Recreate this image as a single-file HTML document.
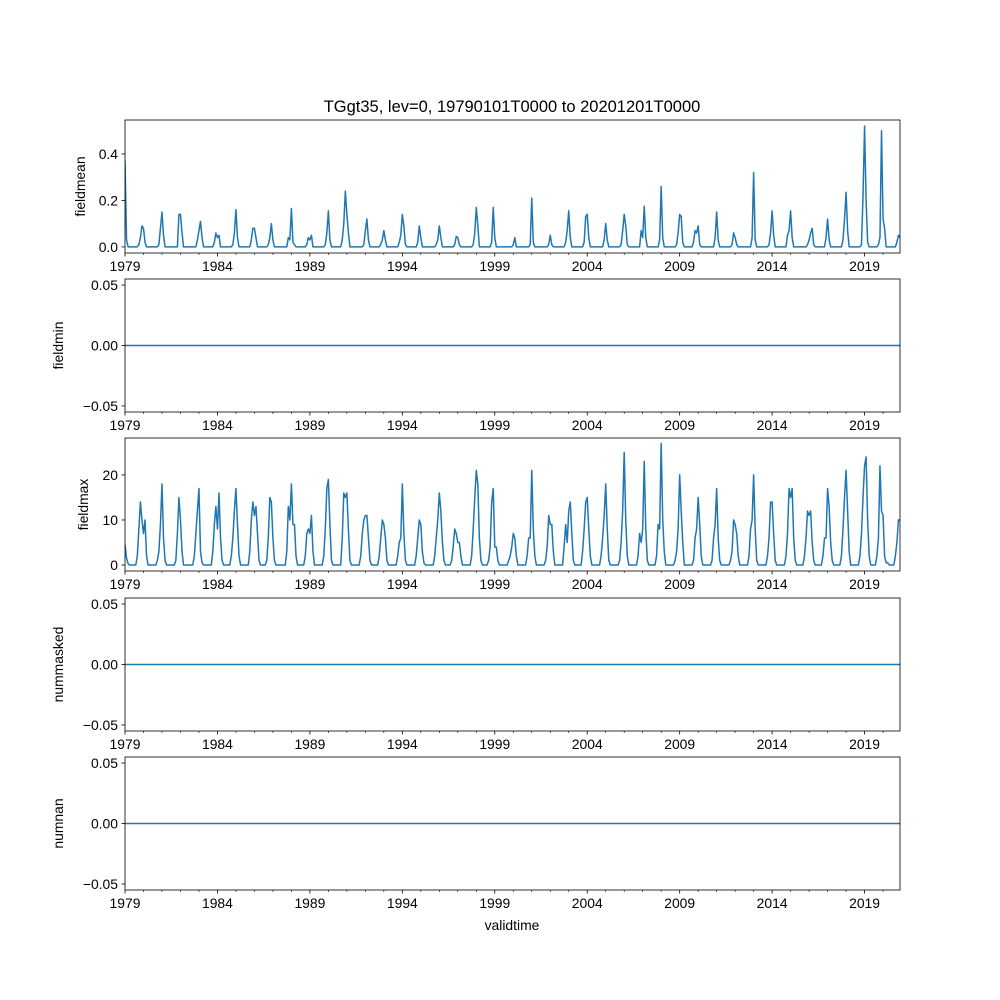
<!DOCTYPE html>
<html><head><meta charset="utf-8"><style>
html,body{margin:0;padding:0;background:#fff}
svg{display:block;font-family:"Liberation Sans","DejaVu Sans",sans-serif}
</style></head><body>
<svg id="fig" width="1000" height="1000" viewBox="0 0 1000 1000">
<text x="512" y="112" font-size="16.5" text-anchor="middle">TGgt35, lev=0, 19790101T0000 to 20201201T0000</text>
<text x="512" y="930" font-size="13.9" text-anchor="middle">validtime</text>
</svg>
<script>
const NMONTHS = 504;
const xTickYears = [1979,1984,1989,1994,1999,2004,2009,2014,2019];
const meanStarts = [-2,9,22,34,47,58,70,82,93,106,118,130,141,155,166,178,189,202,213,226,237,251,262,274,286,298,310,322,335,346,358,369,382,393,406,418,430,443,454,466,478,489,501];
const meanVals = [
[0,0,0.37,0.03,0],[0.01,0.04,0.09,0.08,0.02],[0.01,0.08,0.15,0.05,0],[0,0.14,0.14,0.06,0],
[0.03,0.07,0.11,0.04,0],[0.02,0.06,0.04,0.05,0],[0.01,0.06,0.16,0.04,0],[0.03,0.08,0.08,0.04,0],
[0.01,0.04,0.10,0.03,0],[0.04,0.03,0.165,0.02,0.01],[0.01,0.04,0.03,0.05,0],[0.01,0.06,0.155,0.03,0],
[0.03,0.10,0.24,0.14,0.06],[0.01,0.07,0.12,0.03,0],[0.01,0.03,0.07,0.03,0],[0.02,0.05,0.14,0.09,0.01],
[0,0.02,0.09,0.04,0],[0.01,0.03,0.09,0.04,0],[0,0.01,0.045,0.04,0.01],[0.01,0.06,0.17,0.09,0],
[0,0.02,0.17,0.04,0],[0,0.01,0.04,0,0],[0,0.01,0.21,0.02,0],[0,0.01,0.05,0.01,0],
[0.02,0.07,0.155,0.04,0],[0.02,0.13,0.14,0.04,0],[0,0.03,0.10,0.03,0],[0.01,0.07,0.14,0.09,0.01],
[0.07,0.04,0.175,0.04,0],[0,0.03,0.26,0.04,0],[0.01,0.06,0.14,0.13,0.02],[0.02,0.07,0.06,0.09,0.01],
[0,0.04,0.15,0.03,0],[0,0.01,0.06,0.04,0.01],[0,0.04,0.32,0.03,0],[0.01,0.06,0.155,0.05,0],
[0.05,0.07,0.155,0.04,0],[0.01,0.03,0.06,0.08,0.01],[0,0.04,0.12,0.03,0],[0.03,0.12,0.235,0.07,0],
[0.01,0.22,0.52,0.20,0.02],[0.01,0.04,0.50,0.12,0.08],[0.02,0.05,0.04]];
const maxStarts = [0,8,21,33,45,57,69,81,92,105,117,129,141,153,165,177,189,201,212,225,236,249,261,273,285,297,309,321,333,345,357,369,381,393,405,417,429,441,453,465,477,488,500];
const maxVals = [
[4.5,1.5,0.3],[2,8,14,10,7,10,2],[1,3,9,18,6,1],[1,7,15,10,3],[2,7,12,17,3,0.5],[3,9,13,8,16,6,1],
[2,6,12,17,9,2],[3,10,14,11,13,7,1],[1,6,15,14,6,1],[3,13,10,18,9,9,2],[2,7,8,7,11,3],[2,8,17,19,9,1],
[6,16,15,16,8,1],[2,7,10,11,11,6,1],[2,6,10,9,6,1],[2,5,6,18,7,1],[2,6,10,9,3,0.5],[2,6,10,16,12,5,1],
[1,4,8,7,5,5,2],[2,8,15,21,18,6,1],[1,4,14,17,4,4,1],[1,2,4,7,6,2],[2,6,6,21,8,2],[1,4,11,9,9,3],
[4,9,5,12,14,7,1],[3,8,14,15,8,2],[2,6,11,18,8,1],[1,5,12,25,10,2],[2,7,5,8,23,8,1],[2,9,8,27,10,3],
[1,3,8,20,12,5],[1,6,8,15,9,2],[1,6,9,17,6,1],[1,3,10,9,7,2],[2,8,10,20,8,1],[2,6,14,14,7,1],
[2,7,17,15,17,6,1],[2,6,12,11,12,5,1],[2,6,6,17,13,5,1],[2,8,15,21,12,3],[2,7,15,22,24,10,2],
[2,6,22,12,11,2,0.5,0.5],[2,5,10,10]];

function build(starts, vals){
  const a = new Array(NMONTHS).fill(0);
  starts.forEach((s,i)=>vals[i].forEach((v,j)=>{const m=s+j; if(m>=0&&m<NMONTHS) a[m]=v;}));
  return a;
}
const zeroSeries = new Array(NMONTHS).fill(0);
const panels = [
 {name:'fieldmean', top:120, bot:253, ymin:-0.0263, ymax:0.546, ticks:[0,0.2,0.4], labs:['0.0','0.2','0.4'], lx:85, data:build(meanStarts,meanVals)},
 {name:'fieldmin', top:279, bot:412, ymin:-0.055, ymax:0.055, ticks:[-0.05,0,0.05], labs:['−0.05','0.00','0.05'], lx:63, data:zeroSeries},
 {name:'fieldmax', top:438, bot:571, ymin:-1.33, ymax:28.2, ticks:[0,10,20], labs:['0','10','20'], lx:88, data:build(maxStarts,maxVals)},
 {name:'nummasked', top:598, bot:731, ymin:-0.055, ymax:0.055, ticks:[-0.05,0,0.05], labs:['−0.05','0.00','0.05'], lx:63, data:zeroSeries},
 {name:'numnan', top:757, bot:890, ymin:-0.055, ymax:0.055, ticks:[-0.05,0,0.05], labs:['−0.05','0.00','0.05'], lx:63, data:zeroSeries}
];
const X0=125, X1=900, T0=1979, T1=1979+503/12;
const xs = t => X0 + (t-T0)/(T1-T0)*(X1-X0);
const NS='http://www.w3.org/2000/svg';
const svg=document.getElementById('fig');
function mk(tag, attrs, parent){const e=document.createElementNS(NS,tag);for(const k in attrs)e.setAttribute(k,attrs[k]);(parent||svg).appendChild(e);return e;}
panels.forEach(p=>{
  const g=mk('g',{});
  
  
  const ys = v => p.bot - (v-p.ymin)/(p.ymax-p.ymin)*(p.bot-p.top);
  let d='';
  p.data.forEach((v,i)=>{d+=(i?'L':'M')+xs(T0+i/12).toFixed(2)+','+ys(v).toFixed(2);});
  const clip=mk('clipPath',{id:'c'+p.name},g); mk('rect',{x:X0,y:p.top,width:X1-X0,height:p.bot-p.top},clip);
  const line=mk('path',{d:d,fill:'none',stroke:'#1f77b4','stroke-width':1.5,'stroke-linejoin':'round','clip-path':'url(#c'+p.name+')'},g);
  
  
  const fr=mk('rect',{x:X0,y:p.top,width:X1-X0,height:p.bot-p.top,fill:'none',stroke:'#000','stroke-width':0.8},g);
  
  
  p.ticks.forEach((t,i)=>{
    const y=ys(t);
    mk('line',{x1:X0-3.5,x2:X0,y1:y,y2:y,stroke:'#000','stroke-width':0.8},g);
    const tx=mk('text',{x:X0-7,y:y+5,'font-size':13.9,'text-anchor':'end'},g);
    tx.textContent=p.labs[i];
    
    
  });
  for(let yr=1979; yr<=2020; yr++){
    const x=xs(yr); const major = xTickYears.includes(yr);
    mk('line',{x1:x,x2:x,y1:p.bot,y2:p.bot+(major?3.5:2),stroke:'#000','stroke-width':major?0.8:0.6},g);
  }
  xTickYears.forEach(yr=>{
    const tx=mk('text',{x:xs(yr),y:p.bot+18,'font-size':13.9,'text-anchor':'middle'},g);
    tx.textContent=String(yr);
    
    
  });
  const cy=(p.top+p.bot)/2;
  const yl=mk('text',{x:p.lx,y:cy,'font-size':13.9,'text-anchor':'middle',transform:'rotate(-90 '+p.lx+' '+cy+')'},g);
  yl.textContent=p.name;
  
  
});
</script>
</body></html>
